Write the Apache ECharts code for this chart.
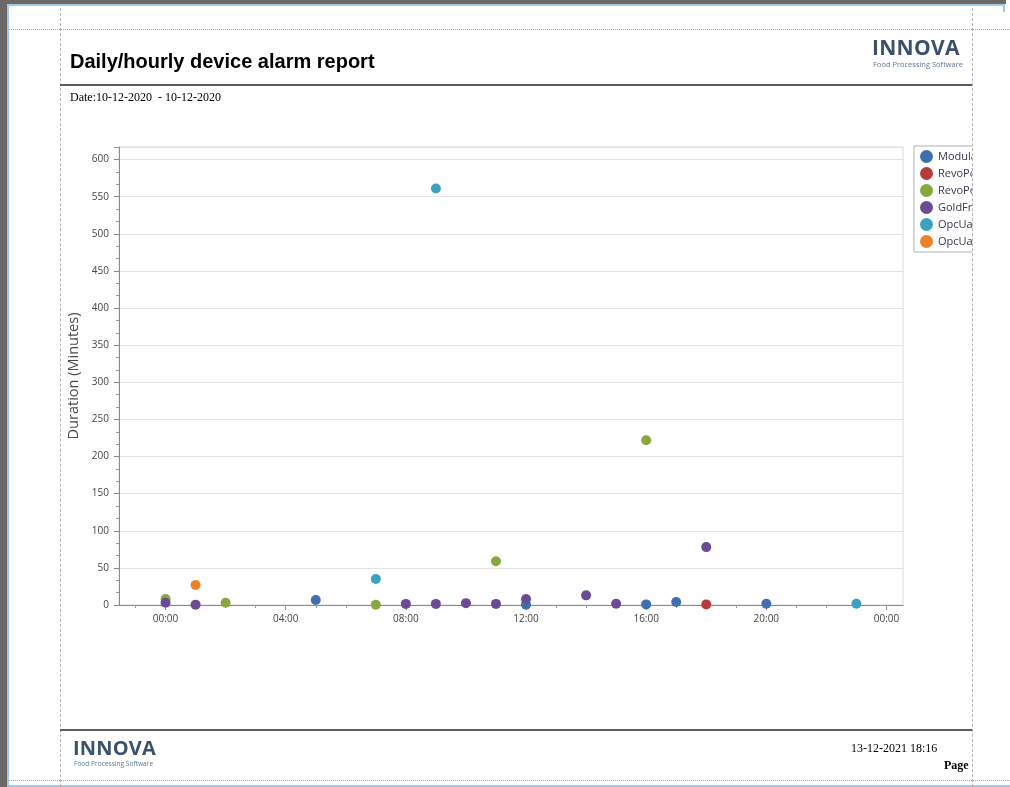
<!DOCTYPE html>
<html>
<head>
<meta charset="utf-8">
<script src="https://cdn.jsdelivr.net/npm/echarts@6/dist/echarts.min.js"></script>
<style>
  html, body { margin: 0; padding: 0; background: #fff; }
  body { width: 1010px; height: 787px; position: relative; overflow: hidden; }
  #chart { position: absolute; left: 0; top: 0; width: 972px; height: 787px; }
  .abs { position: absolute; pointer-events: none; }
  .frameL { left: 0; top: 0; width: 7px; height: 787px; background: #6d6865; }
  .frameT { left: 0; top: 0; width: 1006px; height: 4px; background: #6d6865; }
  .blueT { left: 7px; top: 4px; width: 997px; height: 2px; background: #9fc9ef; }
  .blueL { left: 7px; top: 4px; width: 2px; height: 783px; background: #9fc9ef; }
  .blueB { left: 7px; top: 785px; width: 1003px; height: 2px; background: #9fc9ef; }
  .blueR { left: 1003px; top: 4px; width: 2px; height: 8px; background: #9fc9ef; }
  .vdash { top: 8px; width: 0; height: 779px; border-left: 1px dashed #b4b4b4; }
  .hdash { left: 9px; width: 1001px; height: 0; border-top: 1px dotted #a8a8a8; }
  .rule { left: 60px; width: 912px; height: 2px; background: #5c5c5c; }
  .title { left: 70px; top: 50px; font: bold 20px "Liberation Sans", Arial, sans-serif; color: #000; white-space: nowrap; }
  .serif { font-family: "Liberation Serif", "Times New Roman", serif; font-size: 12px; color: #000; white-space: nowrap; }
  .logo { font: bold 21px "Open Sans", "Liberation Sans", sans-serif; color: #3b506a; letter-spacing: 0.3px; white-space: nowrap; line-height: 1; }
  .logoSub { font: 7.5px "Open Sans", "Liberation Sans", sans-serif; color: #5d7792; white-space: nowrap; line-height: 1; }
</style>
</head>
<body>
<div id="chart"></div>

<div class="abs frameL"></div>
<div class="abs frameT"></div>
<div class="abs blueT"></div>
<div class="abs blueL"></div>
<div class="abs blueB"></div>
<div class="abs blueR"></div>

<div class="abs hdash" style="top:29px"></div>
<div class="abs hdash" style="top:780px"></div>
<div class="abs vdash" style="left:60px"></div>
<div class="abs vdash" style="left:972px"></div>

<div class="abs title">Daily/hourly device alarm report</div>
<div class="abs logo" style="left:872px; top:37px;">INNOVA</div>
<div class="abs logoSub" style="left:873px; top:61px;">Food Processing Software</div>
<div class="abs rule" style="top:84px"></div>
<div class="abs serif" style="left:70px; top:90px;">Date:10-12-2020&nbsp; - 10-12-2020</div>

<div class="abs rule" style="top:729px"></div>
<div class="abs logo" style="left:73px; top:738px; font-size:20px; letter-spacing:0.2px;">INNOVA</div>
<div class="abs logoSub" style="left:74px; top:761px; font-size:6.6px;">Food Processing Software</div>
<div class="abs serif" style="left:851px; top:741px;">13-12-2021 18:16</div>
<div class="abs serif" style="left:944px; top:758px; font-weight:bold;">Page</div>

<script>
// Alarm durations (minutes) per hour of day, one array per device
const seriesNames = [
  'ModulaWeigher',
  'RevoPortioner 1',
  'RevoPortioner 2',
  'GoldFryer',
  'OpcUaDevice 1',
  'OpcUaDevice 2'
];
const seriesColors = ['#3f6fb0', '#b83b3b', '#86a83c', '#6b4c94', '#3aa2bf', '#ee8126'];

// [hour, minutes]
const modula      = [[5, 6.7], [12, 0.3], [16, 0.8], [17, 4], [20, 1.8]];
const revoPo1     = [[18, 0.8]];
const revoPo2     = [[0, 8], [2, 3], [7, 0.3], [11, 59], [16, 222]];
const goldFr      = [[0, 3], [1, 0.5], [8, 1.5], [9, 1.5], [10, 2.5], [11, 1.5], [12, 8], [14, 13], [15, 1.8], [18, 78]];
const opcUa1      = [[7, 35], [9, 561], [23, 1.8]];
const opcUa2      = [[1, 27]];
const seriesData  = [modula, revoPo1, revoPo2, goldFr, opcUa1, opcUa2];

// Axis ticks
const hourLabels  = [0, 4, 8, 12, 16, 20, 24];
const hourTicks   = [-1, 0, 1, 2, 3, 4, 5, 6, 7, 8, 9, 10, 11, 12, 13, 14, 15, 16, 17, 18, 19, 20, 21, 22, 23, 24];
const xMin = -1.55, xMax = 24.55;
const yMax = 617, yStep = 50;

const fmtHour = h => String(((h % 24) + 24) % 24).padStart(2, '0') + ':00';
const axisFont = '"Open Sans", "Noto Sans", sans-serif';

const chart = echarts.init(document.getElementById('chart'), null, { renderer: 'canvas' });

chart.setOption({
  backgroundColor: 'transparent',
  animation: false,
  grid: {
    left: 119, right: 69, top: 147, bottom: 182,
    show: true, borderColor: '#dcdcdc', borderWidth: 1, backgroundColor: 'transparent'
  },
  legend: {
    orient: 'vertical',
    left: 914, top: 146,
    padding: [4, 40, 4, 6],
    itemWidth: 13, itemHeight: 13, itemGap: 4,
    icon: 'circle',
    borderColor: '#b0b0b0', borderWidth: 1, borderRadius: 0,
    backgroundColor: '#fff',
    textStyle: { fontFamily: axisFont, fontSize: 11, color: '#333a48', padding: [0, 0, 0, 0] },
    data: seriesNames
  },
  xAxis: [
    {
      type: 'value', min: xMin, max: xMax, position: 'bottom',
      axisLine: { show: true, onZero: false, lineStyle: { color: '#8a8a8a', width: 1 } },
      axisTick: { show: true, length: 5, customValues: hourLabels, lineStyle: { color: '#8a8a8a' } },
      axisLabel: {
        customValues: hourLabels, margin: 9,
        formatter: v => fmtHour(Math.round(v)),
        fontFamily: axisFont, fontSize: 10, color: '#444'
      },
      splitLine: { show: false }
    },
    {
      type: 'value', min: xMin, max: xMax, position: 'bottom',
      axisLine: { show: false, onZero: false },
      axisTick: { show: true, length: 3, customValues: hourTicks, lineStyle: { color: '#9a9a9a' } },
      axisLabel: { show: false },
      splitLine: { show: false }
    }
  ],
  yAxis: {
    type: 'value', min: 0, max: yMax, interval: yStep, position: 'left',
    name: 'Duration (Minutes)', nameLocation: 'middle', nameGap: 37, nameRotate: 90,
    nameTextStyle: { fontFamily: axisFont, fontSize: 14.5, color: '#4a4a4a' },
    axisLine: { show: true, onZero: false, lineStyle: { color: '#8a8a8a', width: 1 } },
    axisTick: { show: true, length: 5, lineStyle: { color: '#8a8a8a' } },
    minorTick: { show: true, splitNumber: 3, length: 3, lineStyle: { color: '#9a9a9a' } },
    axisLabel: { showMaxLabel: false, margin: 10, fontFamily: axisFont, fontSize: 10, color: '#444' },
    splitLine: { show: true, lineStyle: { color: '#e2e2e2', width: 1 } }
  },
  series: seriesNames.map((name, i) => ({
    name,
    type: 'scatter',
    xAxisIndex: 0,
    symbol: 'circle',
    symbolSize: 10,
    itemStyle: { color: seriesColors[i], opacity: 1 },
    emphasis: { disabled: true },
    data: seriesData[i]
  }))
});
</script>
</body>
</html>
